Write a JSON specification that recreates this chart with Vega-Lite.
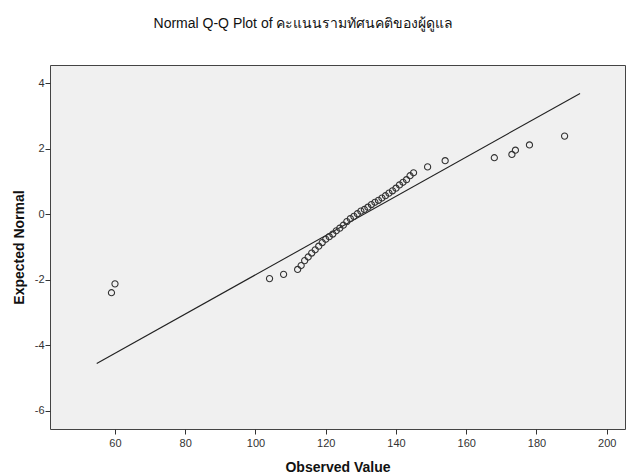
{
  "$schema": "https://vega.github.io/schema/vega-lite/v6.json",
  "width": 575,
  "height": 364,
  "autosize": {"type": "none"},
  "padding": {"left": 50, "top": 65, "right": 2, "bottom": 47},
  "background": "white",
  "config": {
    "font": "Liberation Sans",
    "view": {"fill": "#F0F0F0", "stroke": "#444444", "strokeWidth": 1},
    "axis": {
      "grid": false,
      "domain": false,
      "tickColor": "#333333",
      "tickSize": 5,
      "labelFont": "Liberation Sans",
      "labelFontSize": 11,
      "labelColor": "#333333",
      "titleFont": "Liberation Sans",
      "titleFontSize": 14,
      "titleFontWeight": "bold",
      "titleColor": "#111111"
    }
  },
  "title": {
    "text": "Normal Q-Q Plot of คะแนนรามทัศนคติของผู้ดูแล",
    "fontSize": 14,
    "fontWeight": "normal",
    "color": "#111111",
    "font": "Liberation Sans",
    "anchor": "middle",
    "dx": -34,
    "offset": 34
  },
  "datasets": {
    "pts": [
      {"obs": 59, "exp": -2.39},
      {"obs": 60, "exp": -2.12},
      {"obs": 104, "exp": -1.96},
      {"obs": 108, "exp": -1.83},
      {"obs": 112, "exp": -1.68},
      {"obs": 113, "exp": -1.56},
      {"obs": 114, "exp": -1.41},
      {"obs": 115, "exp": -1.30},
      {"obs": 116, "exp": -1.18},
      {"obs": 117, "exp": -1.08},
      {"obs": 118, "exp": -0.97},
      {"obs": 119, "exp": -0.86},
      {"obs": 120, "exp": -0.76},
      {"obs": 121, "exp": -0.68},
      {"obs": 122, "exp": -0.60},
      {"obs": 123, "exp": -0.50},
      {"obs": 124, "exp": -0.42},
      {"obs": 125, "exp": -0.33},
      {"obs": 126, "exp": -0.22},
      {"obs": 127, "exp": -0.13},
      {"obs": 128, "exp": -0.06},
      {"obs": 129, "exp": 0.02},
      {"obs": 130, "exp": 0.10},
      {"obs": 131, "exp": 0.15},
      {"obs": 132, "exp": 0.22},
      {"obs": 133, "exp": 0.30},
      {"obs": 134, "exp": 0.37},
      {"obs": 135, "exp": 0.43},
      {"obs": 136, "exp": 0.50},
      {"obs": 137, "exp": 0.57},
      {"obs": 138, "exp": 0.65},
      {"obs": 139, "exp": 0.72},
      {"obs": 140, "exp": 0.80},
      {"obs": 141, "exp": 0.90},
      {"obs": 142, "exp": 0.98},
      {"obs": 143, "exp": 1.06},
      {"obs": 144, "exp": 1.18},
      {"obs": 145, "exp": 1.27},
      {"obs": 149, "exp": 1.45},
      {"obs": 154, "exp": 1.64},
      {"obs": 168, "exp": 1.73},
      {"obs": 173, "exp": 1.83},
      {"obs": 174, "exp": 1.96},
      {"obs": 178, "exp": 2.12},
      {"obs": 188, "exp": 2.39}
    ],
    "ref": [
      {"obs": 54.8, "exp": -4.55},
      {"obs": 192.4, "exp": 3.69}
    ]
  },
  "layer": [
    {
      "data": {"name": "ref"},
      "mark": {"type": "line", "color": "#222222", "strokeWidth": 1.1},
      "encoding": {
        "x": {"field": "obs", "type": "quantitative"},
        "y": {"field": "exp", "type": "quantitative"}
      }
    },
    {
      "data": {"name": "pts"},
      "mark": {"type": "point", "shape": "circle", "filled": false, "stroke": "#333333", "strokeWidth": 1.1, "size": 38, "opacity": 1},
      "encoding": {
        "x": {
          "field": "obs",
          "type": "quantitative",
          "title": "Observed Value",
          "scale": {"domain": [41.5, 205.2], "nice": false, "zero": false},
          "axis": {"values": [60, 80, 100, 120, 140, 160, 180, 200], "labelPadding": 3, "titlePadding": 12}
        },
        "y": {
          "field": "exp",
          "type": "quantitative",
          "title": "Expected Normal",
          "scale": {"domain": [-6.55, 4.56], "nice": false, "zero": false},
          "axis": {"values": [-6, -4, -2, 0, 2, 4], "labelExpr": "toString(datum.value)", "labelPadding": 1, "titlePadding": 8}
        }
      }
    }
  ]
}
